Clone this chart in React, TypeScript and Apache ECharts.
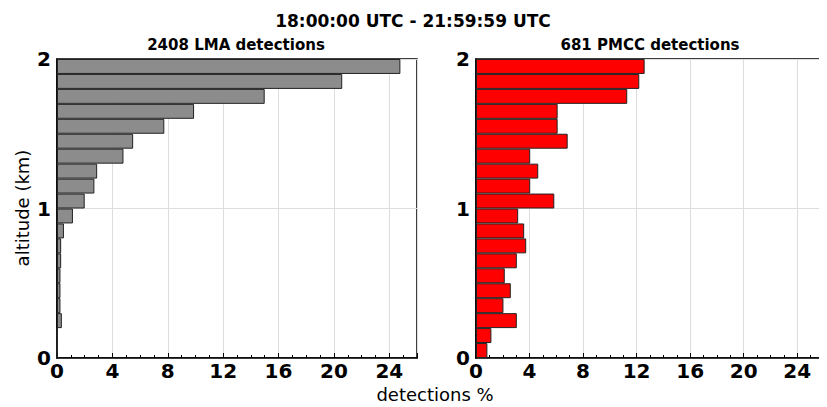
import { useEffect, useRef } from 'react'
import * as echarts from 'echarts'

// altitude bins of 0.1 km, bottom (0-0.1) to top (1.9-2.0)
const bins = Array.from({ length: 20 }, (_, i) => `${(i / 10).toFixed(1)}`)
const lmaValues = [0, 0, 0.35, 0.25, 0.25, 0.25, 0.3, 0.3, 0.5, 1.15, 2.0, 2.7, 2.9, 4.8, 5.5, 7.75, 9.9, 15.0, 20.6, 24.8]
const pmccValues = [0.85, 1.15, 3.05, 2.05, 2.6, 2.15, 3.05, 3.75, 3.6, 3.15, 5.85, 4.05, 4.65, 4.05, 6.85, 6.1, 6.1, 11.3, 12.2, 12.6]

const titulo = '18:00:00 UTC - 21:59:59 UTC'
const subLma = '2408 LMA detections'
const subPmcc = '681 PMCC detections'

const fonte = 'DejaVu Sans, sans-serif'

export default function App() {
  const ref = useRef<HTMLDivElement>(null)

  useEffect(() => {
    if (!ref.current) return
    const chart = echarts.init(ref.current, undefined, { renderer: 'svg' })

    const grids = [
      { left: 57, right: 410, top: 59, bottom: 49 },
      { left: 476, right: 2, top: 59, bottom: 49 },
    ]
    const xAxes = grids.map((_, i) => ({
      type: 'value',
      gridIndex: i,
      min: 0,
      max: 26,
      interval: 4,
      axisLine: { show: true, lineStyle: { color: '#000', width: 1.5 } },
      axisTick: { inside: true, length: 5, lineStyle: { color: '#000' } },
      minorTick: { show: true, splitNumber: 4, length: 3, lineStyle: { color: '#000' } },
      splitLine: { show: true, lineStyle: { color: '#ddd' } },
      axisLabel: {
        color: '#000', fontSize: 20, fontWeight: 'bold', fontFamily: fonte, margin: 3,
        formatter: (v: number) => (v > 24 ? '' : String(v)),
      },
    }))
    const yAxes: any[] = []
    grids.forEach((_, i) => {
      yAxes.push({
        type: 'category', gridIndex: i, data: bins, show: false,
      })
      yAxes.push({
        type: 'value', gridIndex: i, min: 0, max: 2, interval: 1, position: 'left',
        axisLine: { show: true, lineStyle: { color: '#000', width: 1.5 } },
        axisTick: { show: false },
        splitLine: { show: true, lineStyle: { color: '#ddd' } },
        axisLabel: { color: '#000', fontSize: 20, fontWeight: 'bold', fontFamily: fonte, margin: 6 },
      })
    })

    const barra = (data: number[], i: number, cor: string) => ({
      type: 'bar',
      xAxisIndex: i,
      yAxisIndex: i * 2,
      data,
      barCategoryGap: '0%',
      itemStyle: { color: cor, borderColor: '#222', borderWidth: 1 },
      z: 3,
    })

    chart.setOption({
      animation: false,
      backgroundColor: '#fff',
      textStyle: { fontFamily: fonte },
      grid: grids.map((g) => ({ ...g, show: true, borderColor: '#000', borderWidth: 1.5, backgroundColor: 'transparent' })),
      xAxis: xAxes,
      yAxis: yAxes,
      series: [barra(lmaValues, 0, '#8c8c8c'), barra(pmccValues, 1, '#ff0000')],
      graphic: [
        { type: 'text', x: 413, y: 21, style: { text: titulo, font: `bold 17px ${fonte}`, fill: '#000', align: 'center', verticalAlign: 'middle' } },
        { type: 'text', x: 236, y: 45, style: { text: subLma, font: `bold 15px ${fonte}`, fill: '#000', align: 'center', verticalAlign: 'middle' } },
        { type: 'text', x: 650, y: 45, style: { text: subPmcc, font: `bold 15px ${fonte}`, fill: '#000', align: 'center', verticalAlign: 'middle' } },
        { type: 'text', x: 435, y: 394, style: { text: 'detections %', font: `18px ${fonte}`, fill: '#000', align: 'center', verticalAlign: 'middle' } },
        { type: 'text', x: 22, y: 208, rotation: Math.PI / 2, style: { text: 'altitude (km)', font: `18px ${fonte}`, fill: '#000', align: 'center', verticalAlign: 'middle' } },
      ],
    })
    return () => chart.dispose()
  }, [])

  return <div ref={ref} style={{ width: 827, height: 407, margin: '-8px -8px 0 -8px' }} />
}
